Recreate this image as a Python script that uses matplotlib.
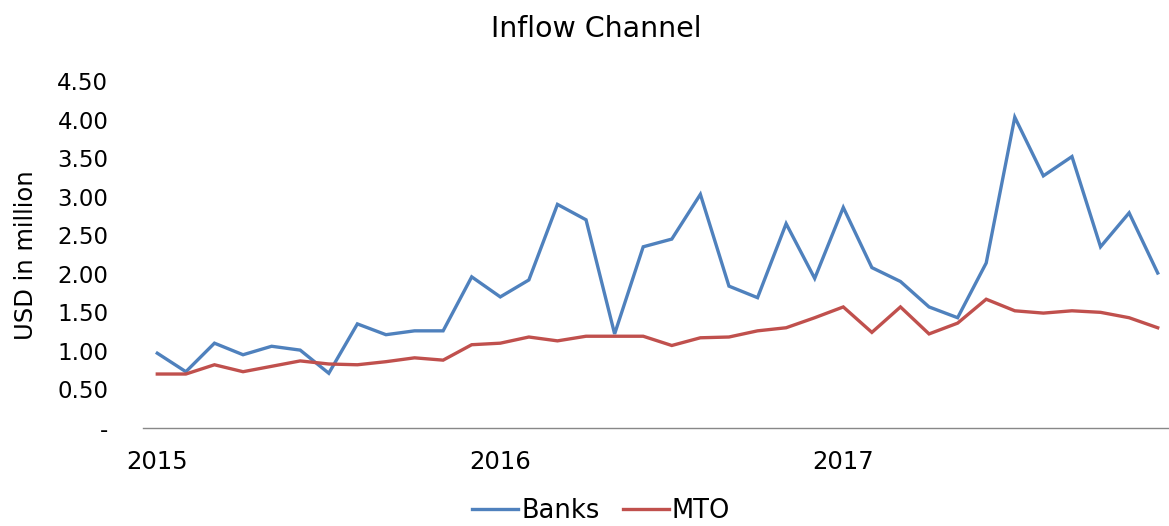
import matplotlib
matplotlib.use("Agg")
import matplotlib.pyplot as plt
import numpy as np

months = np.arange(36)  # Jan 2015 .. Dec 2017
banks = [0.97, 0.73, 1.10, 0.95, 1.06, 1.01, 0.71, 1.35, 1.21, 1.26, 1.26, 1.96,
         1.70, 1.92, 2.90, 2.70, 1.22, 2.35, 2.45, 3.03, 1.84, 1.69, 2.65, 1.94,
         2.86, 2.08, 1.90, 1.57, 1.43, 2.14, 4.03, 3.27, 3.52, 2.35, 2.79, 2.01]
mto = [0.70, 0.70, 0.82, 0.73, 0.80, 0.87, 0.83, 0.82, 0.86, 0.91, 0.88, 1.08,
       1.10, 1.18, 1.13, 1.19, 1.19, 1.19, 1.07, 1.17, 1.18, 1.26, 1.30, 1.43,
       1.57, 1.24, 1.57, 1.22, 1.36, 1.67, 1.52, 1.49, 1.52, 1.50, 1.43, 1.30]
xtick_pos = [0, 12, 24]
xtick_labels = ["2015", "2016", "2017"]
yticks = [0, 0.5, 1.0, 1.5, 2.0, 2.5, 3.0, 3.5, 4.0, 4.5]
ytick_labels = ["-", "0.50", "1.00", "1.50", "2.00", "2.50", "3.00", "3.50", "4.00", "4.50"]

plt.rcParams['font.family'] = ['DejaVu Sans']

W, H = 1169, 526
fig = plt.figure(figsize=(W/100, H/100), dpi=100)
left, right, bottom, top = 143, 1172, 428, 81
ax = fig.add_axes([left/W, 1 - bottom/H, (right-left)/W, (bottom-top)/H])

ax.plot(months, banks, color='#4F81BD', lw=2.4, label='Banks', solid_joinstyle='miter')
ax.plot(months, mto, color='#C0504D', lw=2.4, label='MTO', solid_joinstyle='miter')

ax.set_xlim(-0.5, 35.5)
ax.set_ylim(0, 4.5)
ax.set_yticks(yticks)
ax.set_yticklabels(ytick_labels)
ax.set_xticks(xtick_pos)
ax.set_xticklabels(xtick_labels)
ax.tick_params(axis='y', length=0, pad=25, labelsize=16.5)
ax.tick_params(axis='x', length=0, pad=16, labelsize=17.5)
for s in ['top', 'right', 'left']:
    ax.spines[s].set_visible(False)
ax.spines['bottom'].set_color('#888888')
ax.spines['bottom'].set_linewidth(1.0)

fig.text(596/W, 1 - 29/H, "Inflow Channel", ha='center', va='center', fontsize=20.5)
fig.text(26/W, 1 - 255/H, "USD in million", ha='center', va='center', rotation=90, fontsize=17.5)

leg = fig.legend(loc='center', bbox_to_anchor=(601/W, 1 - 511/H), ncol=2, frameon=False,
                 fontsize=18.5, handlelength=1.8, handletextpad=0.1, columnspacing=0.9,
                 borderpad=0.0)

fig.savefig("out.png", dpi=100)
